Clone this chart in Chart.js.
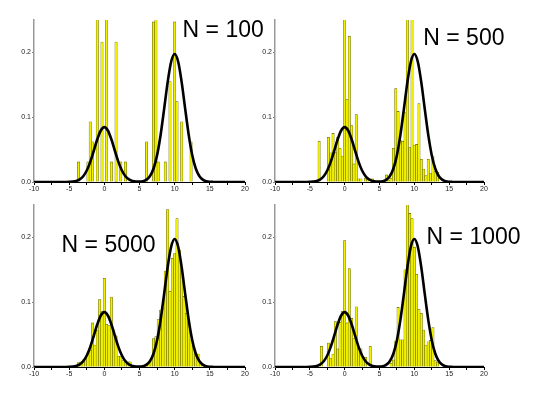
<!DOCTYPE html>
<html><head><meta charset="utf-8">
<script src="https://cdn.jsdelivr.net/npm/chart.js@4.4.1/dist/chart.umd.min.js"></script>
<style>
html,body{margin:0;padding:0;background:#fff;width:535px;height:393px;overflow:hidden}
canvas{position:absolute}
</style></head><body>
<canvas id="c1" width="267" height="196" style="left:0px;top:0px"></canvas>
<canvas id="c2" width="286" height="196" style="left:249px;top:0px"></canvas>
<canvas id="c3" width="267" height="196" style="left:0px;top:185px"></canvas>
<canvas id="c4" width="286" height="196" style="left:249px;top:185px"></canvas>
<script>
// Histogram bin grid (bin centres from -4 to 14, width 1/3)
const binStart = -4;
const binWidth = 1 / 3;
const binCount = 55;

// Normalised histogram heights
const heightsN100 = [0,0.031,0,0,0,0.031,0.093,0.062,0,0.3,
  0,0.216,0,0.3,0,0.031,0,0.216,0,0.031,
  0,0.031,0,0,0,0,0,0,0,0,
  0.062,0,0,0.247,0.3,0.031,0,0,0.031,0,
  0.155,0,0.247,0.124,0,0.093,0,0,0,0.062,
  0,0,0,0,0];
const heightsN500 = [0,0.063,0,0,0,0.069,0.045,0.075,0.046,0.069,
  0.052,0.040,0.3,0.127,0.225,0.087,0.028,0.104,0.005,0.005,
  0,0.006,0.004,0,0.005,0,0,0,0,0,
  0.011,0.003,0.006,0.052,0.144,0.109,0.064,0.063,0.108,0.3,
  0.053,0.3,0.057,0.058,0.121,0.035,0.020,0.010,0.035,0.013,
  0.040,0.016,0.015,0,0];
const heightsN5000 = [0.003,0.007,0.008,0.011,0.013,0.020,0.026,0.068,0.034,0.057,
  0.104,0.086,0.137,0.066,0.064,0.108,0.057,0.048,0.017,0.016,
  0.010,0.010,0.008,0.008,0.002,0,0,0,0,0.002,
  0.003,0.005,0.008,0.044,0.047,0.073,0.088,0.090,0.148,0.243,
  0.117,0.168,0.175,0.229,0.180,0.150,0.109,0.083,0.068,0.042,
  0.032,0.019,0.020,0.008,0.003];
const heightsN1000 = [0,0,0.032,0,0,0.037,0.013,0.020,0.070,0.028,
  0.069,0.086,0.195,0.068,0.152,0.075,0.044,0.093,0.029,0.028,
  0.015,0.015,0,0.032,0,0,0,0,0,0,
  0,0,0.006,0.011,0.040,0.092,0.042,0.042,0.150,0.251,
  0.237,0.229,0.185,0.143,0.089,0.083,0.057,0.034,0.039,0.041,
  0.061,0.010,0.007,0,0];

// Fitted density curve (same in all panels)
const curveX = [-10,-6,-5.5,-5,-4.5,-4,-3.5,-3,-2.5,-2,-1.5,-1,-0.5,0,0.5,1,1.5,2,2.5,3,3.5,4,4.5,5,5.5,6,6.5,7,7.5,8,8.5,9,9.5,10,10.5,11,11.5,12,12.5,13,13.5,14,14.5,15,15.5,16,20];
const curveY = [0,0.00001,0.00004,0.00016,0.00054,0.00155,0.00396,0.00892,0.01774,0.03113,0.04822,0.06591,0.07950,0.08463,0.07950,0.06591,0.04822,0.03113,0.01774,0.00892,0.00396,0.00157,0.00064,0.00054,0.00129,0.00363,0.00924,0.02081,0.04139,0.07264,0.11251,0.15378,0.18550,0.19746,0.18550,0.15378,0.11251,0.07264,0.04139,0.02081,0.00924,0.00362,0.00125,0.00038,0.00010,0.00002,0];

// Axis ticks
const xTickValues = [-10,-7.5,-5,-2.5,0,2.5,5,7.5,10,12.5,15,17.5,20];
const xTickLabels = ['-10','','-5','','0','','5','','10','','15','','20'];
const yTickValues = [0, 0.1, 0.2];
const yTickLabels = ['0.0','0.1','0.2'];

const panelTitles = ['N = 100','N = 500','N = 5000','N = 1000'];

const labelPlugin = {
  id: 'nlabel',
  afterDatasetsDraw(chart, args, opts) {
    const ctx = chart.ctx;
    ctx.save();
    ctx.font = '23px "Liberation Sans", Arial, sans-serif';
    ctx.fillStyle = '#000';
    ctx.textBaseline = 'alphabetic';
    ctx.textAlign = 'left';
    ctx.fillText(opts.text, opts.x, opts.y);
    ctx.restore();
  }
};

function makePanel(id, heights, title, pad, labelPos) {
  const bars = heights.map((h, i) => ({x: binStart + i * binWidth, y: h > 0 ? h : null}));
  const curve = curveX.map((x, i) => ({x: x, y: curveY[i]}));
  const tickFont = {family: '"Liberation Sans", Arial, sans-serif', size: 7};
  new Chart(document.getElementById(id), {
    type: 'bar',
    data: {
      datasets: [
        {type: 'line', data: curve, borderColor: '#000', borderWidth: 2.6, pointRadius: 0,
         cubicInterpolationMode: 'monotone', fill: false},
        {type: 'bar', data: bars, backgroundColor: '#f0f000', borderColor: '#5c5c00',
         borderWidth: {left: 0.5, right: 0.5, top: 0.6, bottom: 0},
         barPercentage: 1, categoryPercentage: 1}
      ]
    },
    options: {
      responsive: false, animation: false, devicePixelRatio: 1,
      layout: {padding: pad},
      plugins: {legend: {display: false}, tooltip: {enabled: false}, nlabel: {text: title, x: labelPos[0], y: labelPos[1]}},
      scales: {
        x: {
          type: 'linear', min: -10, max: 20, offset: false,
          border: {color: '#000', width: 1},
          grid: {display: true, drawOnChartArea: false, drawTicks: true, tickLength: 3, color: '#000', offset: false},
          ticks: {font: tickFont, color: '#222', padding: 0, autoSkip: false, maxRotation: 0,
            callback: (v) => { const k = xTickValues.indexOf(v); return k >= 0 ? xTickLabels[k] : ''; }},
          afterBuildTicks: (s) => { s.ticks = xTickValues.map(v => ({value: v})); },
          afterFit: (s) => { s.height = 14; }
        },
        y: {
          type: 'linear', min: 0, max: 0.25,
          border: {color: '#999', width: 1.5},
          grid: {display: true, drawOnChartArea: false, drawTicks: true, tickLength: 2, color: '#777'},
          ticks: {font: tickFont, color: '#222', padding: 1,
            callback: (v) => { const k = yTickValues.indexOf(v); return k >= 0 ? yTickLabels[k] : ''; }},
          afterBuildTicks: (s) => { s.ticks = yTickValues.map(v => ({value: v})); },
          afterFit: (s) => { s.width = 26; }
        }
      }
    },
    plugins: [labelPlugin]
  });
}

makePanel('c1', heightsN100, panelTitles[0], {left: 8, right: 22, top: 20, bottom: 0}, [182.6, 36.7]);
makePanel('c2', heightsN500, panelTitles[1], {left: 0, right: 51, top: 20, bottom: 0}, [174.3, 45]);
makePanel('c3', heightsN5000, panelTitles[2], {left: 8, right: 22, top: 20, bottom: 0}, [61.6, 66.7]);
makePanel('c4', heightsN1000, panelTitles[3], {left: 0, right: 51, top: 20, bottom: 0}, [177.6, 59.3]);
</script>
</body></html>
